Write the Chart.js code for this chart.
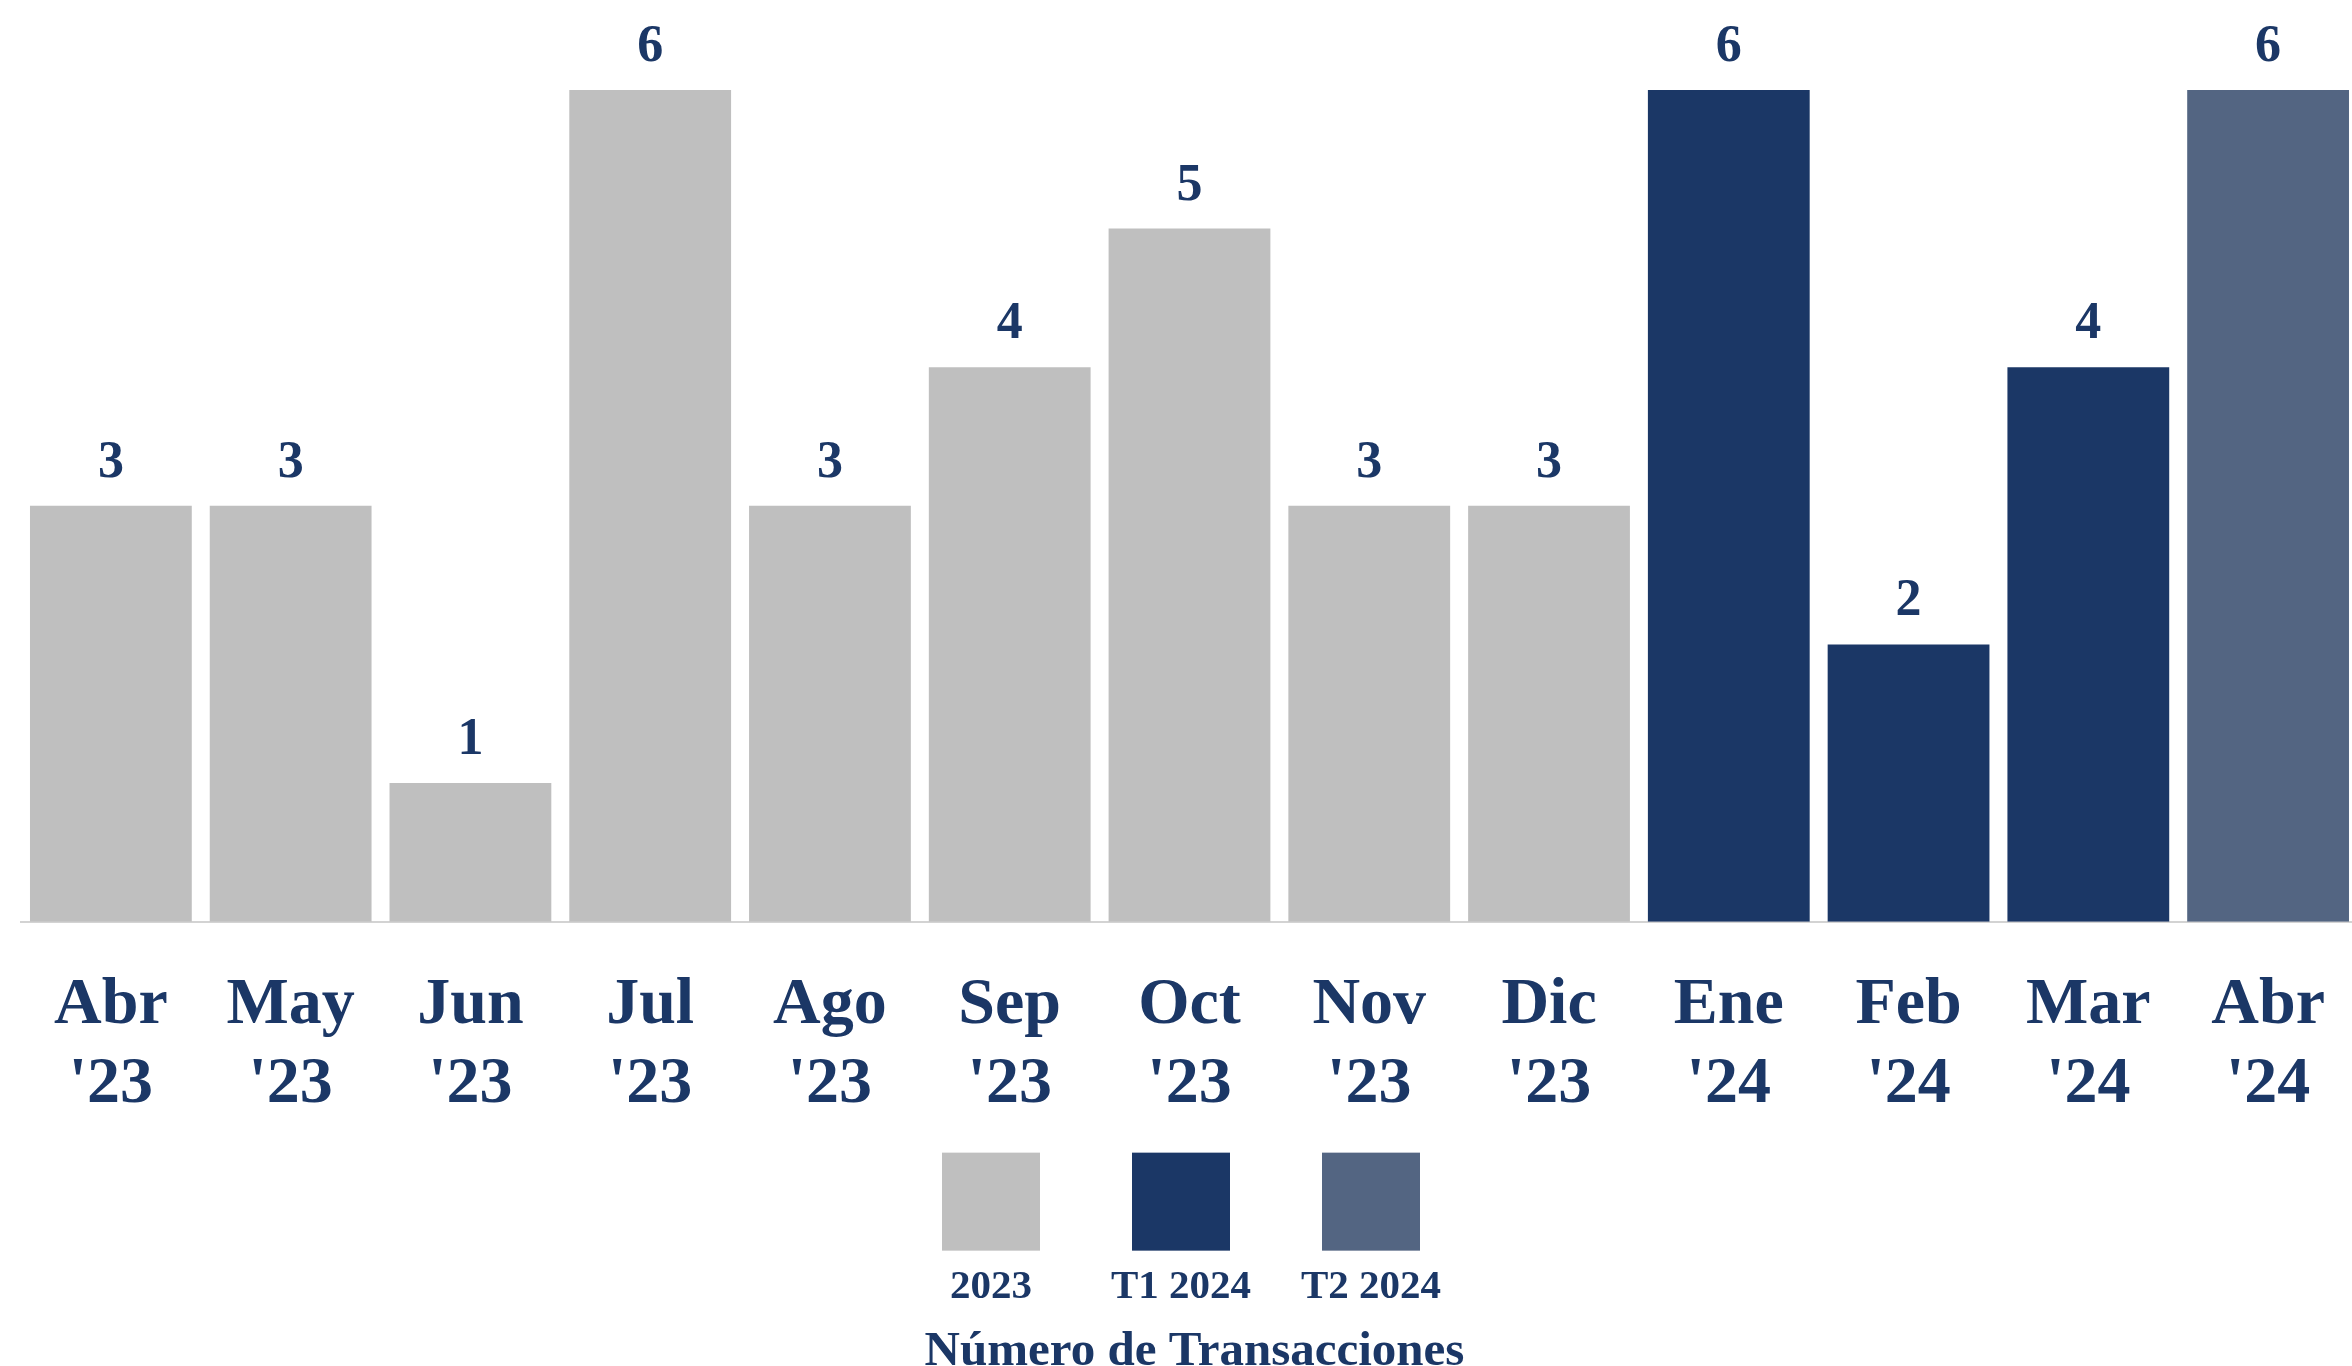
<!DOCTYPE html>
<html>
<head>
<meta charset="utf-8">
<script src="https://cdn.jsdelivr.net/npm/chart.js@4"></script>
<style>
  html, body { margin: 0; padding: 0; background: #fff; overflow: hidden; }
  #wrap { width: 2370px; height: 1366px; }
</style>
</head>
<body>
<div id="wrap"><canvas id="transacciones-chart"></canvas></div>
<script>
var meses = [["Abr", "'23"], ["May", "'23"], ["Jun", "'23"], ["Jul", "'23"], ["Ago", "'23"],
             ["Sep", "'23"], ["Oct", "'23"], ["Nov", "'23"], ["Dic", "'23"],
             ["Ene", "'24"], ["Feb", "'24"], ["Mar", "'24"], ["Abr", "'24"]];
var transacciones = [3, 3, 1, 6, 3, 4, 5, 3, 3, 6, 2, 4, 6];
// 0 = 2023, 1 = T1 2024, 2 = T2 2024
var periodo = [0, 0, 0, 0, 0, 0, 0, 0, 0, 1, 1, 1, 2];
var periodos = ["2023", "T1 2024", "T2 2024"];
var colores = ["#BFBFBF", "#1B3766", "#536582"];
var azul = "#1B3766";
var fuente = '"Liberation Serif", "Times New Roman", serif';

// numeros encima de cada barra
var etiquetas = {
  id: 'etiquetas',
  afterDatasetsDraw: function(chart) {
    var ctx = chart.ctx;
    var meta = chart.getDatasetMeta(0);
    ctx.save();
    ctx.font = 'bold 52px ' + fuente;
    ctx.fillStyle = azul;
    ctx.textAlign = 'center';
    ctx.textBaseline = 'alphabetic';
    meta.data.forEach(function(bar, i) {
      ctx.fillText(transacciones[i], bar.x, bar.y - 29);
    });
    ctx.restore();
  }
};

// leyenda con el texto debajo del cuadro
var leyenda = {
  id: 'leyenda',
  afterDraw: function(chart) {
    var ctx = chart.ctx;
    var base = chart.chartArea.bottom;
    var centro = 1181;
    ctx.save();
    ctx.font = 'bold 41px ' + fuente;
    ctx.textAlign = 'center';
    ctx.textBaseline = 'alphabetic';
    periodos.forEach(function(p, i) {
      var cx = centro + (i - 1) * 190;
      ctx.fillStyle = colores[i];
      ctx.fillRect(cx - 49, base + 231, 98, 98);
      ctx.fillStyle = azul;
      ctx.fillText(p, cx, base + 376);
    });
    ctx.restore();
  }
};

new Chart(document.getElementById("transacciones-chart"), {
  type: 'bar',
  data: {
    labels: meses,
    datasets: [{
      label: "Número de Transacciones",
      data: transacciones,
      backgroundColor: periodo.map(function(p) { return colores[p]; }),
      borderWidth: 0,
      barPercentage: 0.9,
      categoryPercentage: 1.0
    }]
  },
  options: {
    maintainAspectRatio: false,
    responsive: true,
    animation: false,
    events: [],
    layout: { padding: { top: 90, left: 21, right: 2, bottom: 0 } },
    scales: {
      x: {
        grid: { display: false, drawTicks: false },
        border: { display: true, color: '#D3D3D3', width: 2 },
        ticks: {
          color: azul,
          padding: 45,
          maxRotation: 0,
          autoSkip: false,
          font: { family: fuente, size: 66, weight: 'bold', lineHeight: 1.2 }
        }
      },
      y: { display: false, min: 0, max: 6 }
    },
    plugins: {
      legend: { display: false },
      tooltip: { enabled: false },
      title: {
        display: true,
        position: 'bottom',
        text: 'Número de Transacciones',
        color: azul,
        font: { family: fuente, size: 49, weight: 'bold', lineHeight: 0.55 },
        padding: { top: 169, bottom: 0 }
      }
    }
  },
  plugins: [etiquetas, leyenda]
});
</script>
</body>
</html>
